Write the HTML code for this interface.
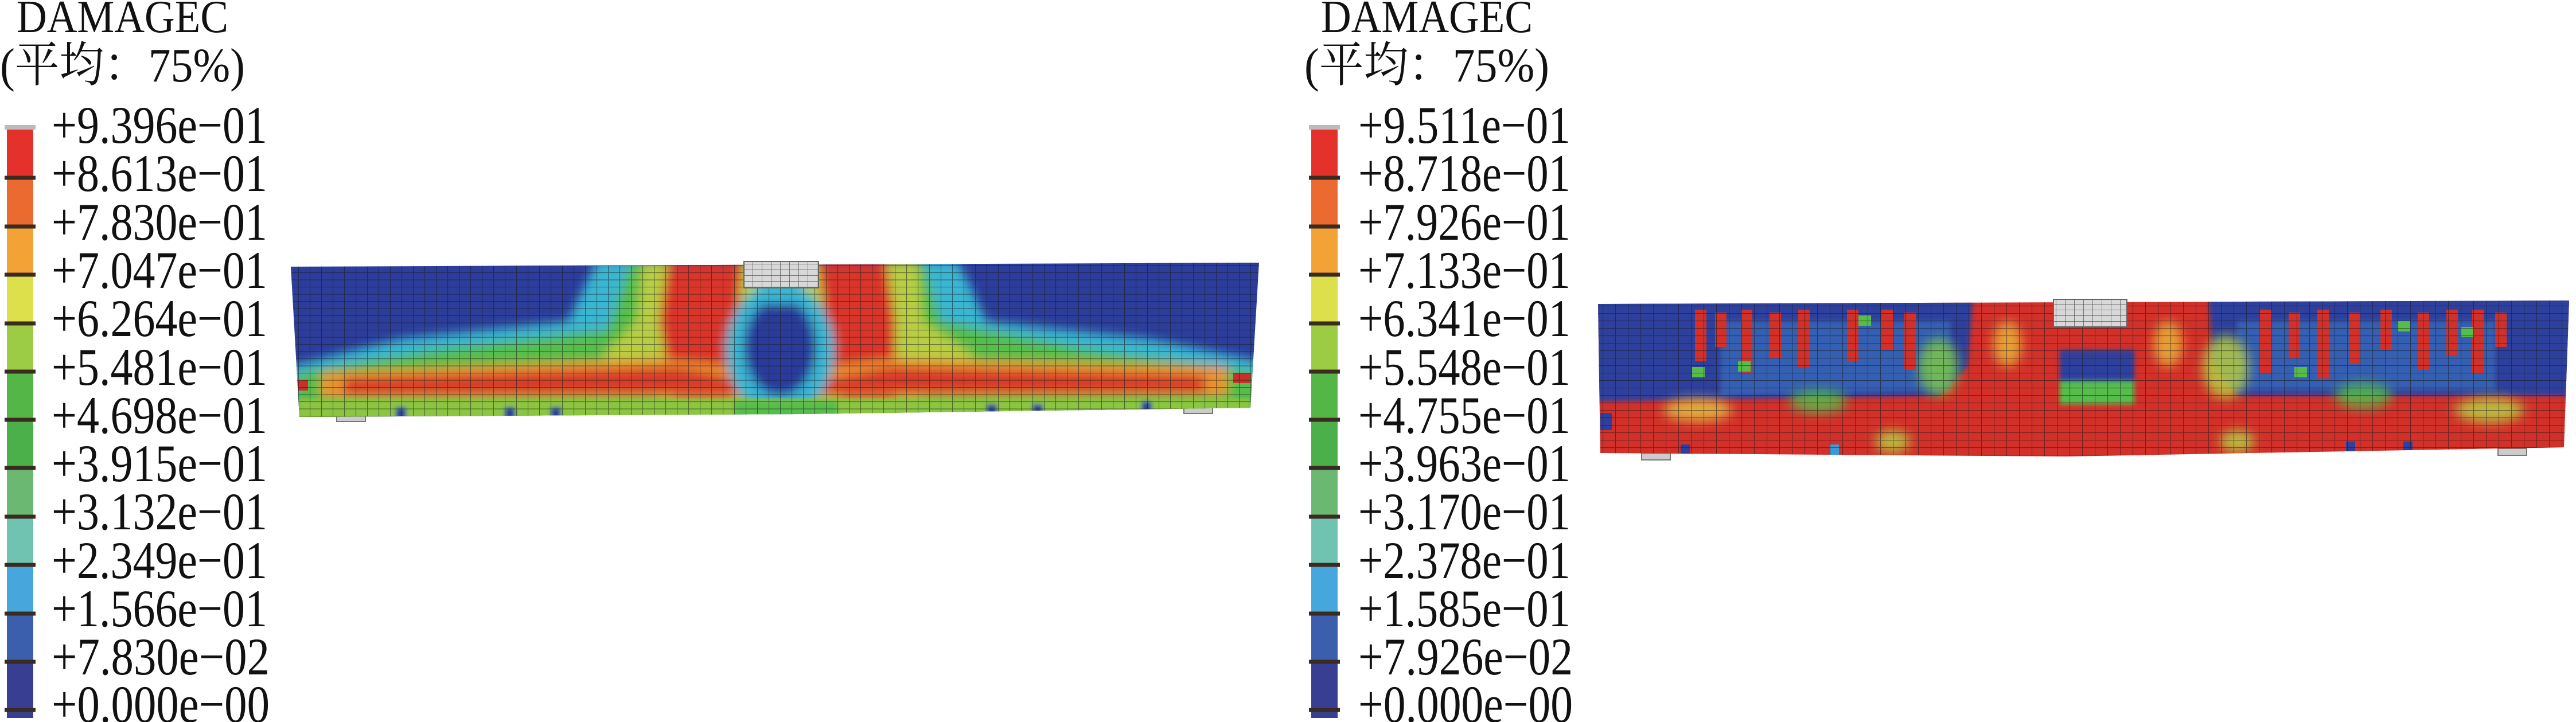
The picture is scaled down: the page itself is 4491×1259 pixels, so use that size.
<!DOCTYPE html>
<html><head><meta charset="utf-8"><style>
html,body{margin:0;padding:0;background:#fff;}
svg{display:block;}
</style></head><body>
<svg width="4491" height="1259" viewBox="0 0 4491 1259" xmlns="http://www.w3.org/2000/svg" style="font-family:'Liberation Serif','Noto Serif CJK SC',serif;">
<defs>
<filter id="bl" x="-5%" y="-5%" width="110%" height="110%"><feGaussianBlur stdDeviation="9"/></filter>
<filter id="bl2" x="-5%" y="-5%" width="110%" height="110%"><feGaussianBlur stdDeviation="4"/></filter>
<filter id="bl3" x="-20%" y="-20%" width="140%" height="140%"><feGaussianBlur stdDeviation="10"/></filter>
<pattern id="g1" width="20" height="12.5" patternUnits="userSpaceOnUse">
<path d="M0 0H20M0 0V12.5" stroke="#1a1a1a" stroke-opacity="0.55" stroke-width="2.2" fill="none"/></pattern>
<pattern id="g2" width="22" height="13" patternUnits="userSpaceOnUse">
<path d="M0 0H22M0 0V13" stroke="#1a1a1a" stroke-opacity="0.55" stroke-width="2.2" fill="none"/></pattern>
<pattern id="gp" width="16" height="10" patternUnits="userSpaceOnUse">
<path d="M0 0H16M0 0V10" stroke="#555" stroke-width="1.5" fill="none"/></pattern>
<clipPath id="c1"><path d="M507 465 L2195 458 L2180 711 L1400 722 L522 727 Z"/></clipPath>
<clipPath id="c2"><path d="M2786 530 L4479 524 L4470 780 L3600 796 L2790 790 Z"/></clipPath>
<g id="legendbar">
<rect x="12" y="222" width="46" height="1030" fill="#aaa"/>
<rect x="12" y="226" width="46" height="84" fill="#e5312b"/>
<rect x="12" y="310" width="46" height="85" fill="#eb6a30"/>
<rect x="12" y="395" width="46" height="84" fill="#f3a336"/>
<rect x="12" y="479" width="46" height="85" fill="#dde04a"/>
<rect x="12" y="564" width="46" height="84" fill="#9ccc44"/>
<rect x="12" y="648" width="46" height="84" fill="#55b648"/>
<rect x="12" y="732" width="46" height="84" fill="#4bb049"/>
<rect x="12" y="816" width="46" height="85" fill="#6ab872"/>
<rect x="12" y="901" width="46" height="84" fill="#70c3b0"/>
<rect x="12" y="985" width="46" height="85" fill="#45a7dc"/>
<rect x="12" y="1070" width="46" height="84" fill="#3b5fad"/>
<rect x="12" y="1154" width="46" height="98" fill="#383f93"/>
<g stroke="#3a2a20" stroke-width="7">
<path d="M8 310H62M8 395H62M8 479H62M8 564H62M8 648H62M8 732H62M8 816H62M8 901H62M8 985H62M8 1070H62M8 1154H62M8 1238H62"/>
</g>
<path d="M8 222H62" stroke="#bbb" stroke-width="8"/>
</g>
</defs>

<!-- LEFT LEGEND -->
<g fill="#111" font-family="Liberation Serif, Noto Serif CJK SC, serif">
<text x="29" y="56" font-size="80" textLength="369" lengthAdjust="spacingAndGlyphs">DAMAGEC</text>
<text x="0" y="142" font-size="84" textLength="427" lengthAdjust="spacingAndGlyphs">(平均：75%)</text>
</g>
<use href="#legendbar"/>
<g font-size="92" fill="#111" font-family="Liberation Serif, serif">
<text x="90" y="249" textLength="376" lengthAdjust="spacingAndGlyphs">+9.396e−01</text>
<text x="90" y="333" textLength="376" lengthAdjust="spacingAndGlyphs">+8.613e−01</text>
<text x="90" y="418" textLength="376" lengthAdjust="spacingAndGlyphs">+7.830e−01</text>
<text x="90" y="502" textLength="376" lengthAdjust="spacingAndGlyphs">+7.047e−01</text>
<text x="90" y="586" textLength="376" lengthAdjust="spacingAndGlyphs">+6.264e−01</text>
<text x="90" y="671" textLength="376" lengthAdjust="spacingAndGlyphs">+5.481e−01</text>
<text x="90" y="755" textLength="376" lengthAdjust="spacingAndGlyphs">+4.698e−01</text>
<text x="90" y="839" textLength="376" lengthAdjust="spacingAndGlyphs">+3.915e−01</text>
<text x="90" y="923" textLength="376" lengthAdjust="spacingAndGlyphs">+3.132e−01</text>
<text x="90" y="1008" textLength="376" lengthAdjust="spacingAndGlyphs">+2.349e−01</text>
<text x="90" y="1092" textLength="376" lengthAdjust="spacingAndGlyphs">+1.566e−01</text>
<text x="90" y="1176" textLength="380" lengthAdjust="spacingAndGlyphs">+7.830e−02</text>
<text x="90" y="1259" textLength="380" lengthAdjust="spacingAndGlyphs">+0.000e−00</text>
</g>

<!-- RIGHT LEGEND -->
<g transform="translate(2274,0)">
<g fill="#111" font-family="Liberation Serif, Noto Serif CJK SC, serif">
<text x="29" y="56" font-size="80" textLength="369" lengthAdjust="spacingAndGlyphs">DAMAGEC</text>
<text x="0" y="142" font-size="84" textLength="427" lengthAdjust="spacingAndGlyphs">(平均：75%)</text>
</g>
<use href="#legendbar"/>
<g font-size="92" fill="#111" font-family="Liberation Serif, serif">
<text x="94" y="249" textLength="370" lengthAdjust="spacingAndGlyphs">+9.511e−01</text>
<text x="94" y="333" textLength="370" lengthAdjust="spacingAndGlyphs">+8.718e−01</text>
<text x="94" y="418" textLength="370" lengthAdjust="spacingAndGlyphs">+7.926e−01</text>
<text x="94" y="502" textLength="370" lengthAdjust="spacingAndGlyphs">+7.133e−01</text>
<text x="94" y="586" textLength="370" lengthAdjust="spacingAndGlyphs">+6.341e−01</text>
<text x="94" y="671" textLength="370" lengthAdjust="spacingAndGlyphs">+5.548e−01</text>
<text x="94" y="755" textLength="370" lengthAdjust="spacingAndGlyphs">+4.755e−01</text>
<text x="94" y="839" textLength="370" lengthAdjust="spacingAndGlyphs">+3.963e−01</text>
<text x="94" y="923" textLength="370" lengthAdjust="spacingAndGlyphs">+3.170e−01</text>
<text x="94" y="1008" textLength="370" lengthAdjust="spacingAndGlyphs">+2.378e−01</text>
<text x="94" y="1092" textLength="370" lengthAdjust="spacingAndGlyphs">+1.585e−01</text>
<text x="94" y="1176" textLength="374" lengthAdjust="spacingAndGlyphs">+7.926e−02</text>
<text x="94" y="1259" textLength="374" lengthAdjust="spacingAndGlyphs">+0.000e−00</text>
</g>
</g>

<!-- LEFT BEAM -->
<rect x="587" y="722" width="50" height="13" fill="#ccc" stroke="#777" stroke-width="2"/>
<rect x="2064" y="708" width="50" height="13" fill="#ccc" stroke="#777" stroke-width="2"/>
<g clip-path="url(#c1)">
<rect x="500" y="450" width="1710" height="290" fill="#2c3d9c"/>
<g filter="url(#bl)">
<path d="M1040 455 L1670 455 L1720 560 L2000 590 L2200 630 L2200 740 L500 740 L500 640 L700 590 L990 560 Z" fill="#3ab6d2"/>
<path d="M1100 455 L1610 455 L1640 560 L1900 610 L2200 650 L2200 740 L500 740 L520 650 L760 610 L1060 575 Z" fill="#56bd4b"/>
<path d="M1120 455 L1600 455 L1610 560 L1700 620 L1600 700 L1150 700 L1050 620 L1110 560 Z" fill="#e2d442" opacity="0.7"/>
<path d="M1165 455 L1295 455 L1285 560 L1275 700 L1175 700 L1150 560 Z" fill="#d9342a"/>
<path d="M1425 455 L1545 455 L1560 560 L1560 700 L1465 700 L1440 560 Z" fill="#d9342a"/>
<path d="M560 650 L1150 625 L1290 640 L1440 640 L1560 625 L2140 640 L2140 690 L560 695 Z" fill="#e9932f"/>
<path d="M600 660 L1180 640 L1280 660 L1450 660 L1550 640 L2100 655 L2100 685 L600 688 Z" fill="#d63a2a"/>
<ellipse cx="1360" cy="610" rx="95" ry="115" fill="#3ab6d2"/>
<ellipse cx="1360" cy="605" rx="62" ry="85" fill="#2a3a9a"/>
<rect x="1320" y="470" width="80" height="60" fill="#3ab6d2"/>
</g>
<g filter="url(#bl2)">
<rect x="520" y="695" width="1660" height="40" fill="#8cc63f"/>
<rect x="1280" y="700" width="180" height="35" fill="#56bd4b"/>
<rect x="690" y="710" width="18" height="25" fill="#2c3d9c"/>
<rect x="880" y="710" width="18" height="25" fill="#2c3d9c"/>
<rect x="960" y="710" width="18" height="25" fill="#2c3d9c"/>
<rect x="1720" y="705" width="18" height="25" fill="#2c3d9c"/>
<rect x="1800" y="705" width="18" height="25" fill="#2c3d9c"/>
<rect x="1990" y="700" width="18" height="25" fill="#2c3d9c"/>
</g>
<rect x="507" y="663" width="30" height="18" fill="#c8302a"/>
<rect x="2150" y="650" width="30" height="18" fill="#c8302a"/>
<rect x="500" y="450" width="1710" height="290" fill="url(#g1)"/>
</g>
<rect x="1297" y="456" width="130" height="46" fill="#d8d8d8"/>
<rect x="1297" y="456" width="130" height="46" fill="url(#gp)" stroke="#666" stroke-width="2"/>

<!-- RIGHT BEAM -->
<rect x="2862" y="790" width="50" height="12" fill="#ccc" stroke="#777" stroke-width="2"/>
<rect x="4355" y="782" width="50" height="12" fill="#ccc" stroke="#777" stroke-width="2"/>
<g clip-path="url(#c2)">
<rect x="2780" y="515" width="1710" height="290" fill="#d3302a"/>
<g filter="url(#bl2)">
<path d="M2780 515 L3440 515 L3430 640 L3380 690 L2780 700 Z" fill="#2e3f9e"/>
<path d="M3850 515 L4490 515 L4490 690 L3900 690 L3860 640 Z" fill="#2e3f9e"/>
<path d="M3000 560 L3400 560 L3400 680 L3000 690 Z" fill="#3d7fc8" opacity="0.5"/>
<path d="M3900 560 L4350 560 L4350 680 L3900 680 Z" fill="#3d7fc8" opacity="0.5"/>
<rect x="3591" y="610" width="130" height="57" fill="#2e3f9e"/>
<rect x="3591" y="665" width="130" height="40" fill="#56bd4b"/>
</g>
<g filter="url(#bl3)" opacity="0.85">
<ellipse cx="3380" cy="640" rx="35" ry="50" fill="#7cc64a"/>
<ellipse cx="3880" cy="640" rx="40" ry="55" fill="#b7cf45"/>
<ellipse cx="3170" cy="700" rx="50" ry="20" fill="#56bd4b"/>
<ellipse cx="2960" cy="715" rx="60" ry="20" fill="#e2c144"/>
<ellipse cx="4120" cy="690" rx="50" ry="22" fill="#56bd4b"/>
<ellipse cx="4340" cy="715" rx="60" ry="22" fill="#b7cf45"/>
<ellipse cx="3500" cy="600" rx="25" ry="40" fill="#e8b43a"/>
<ellipse cx="3780" cy="600" rx="25" ry="40" fill="#e8b43a"/>
<ellipse cx="3300" cy="770" rx="30" ry="20" fill="#b7cf45"/>
<ellipse cx="3900" cy="770" rx="30" ry="20" fill="#b7cf45"/>
</g>
<g fill="#d3302a">
<rect x="2955" y="540" width="20" height="90"/><rect x="2990" y="545" width="20" height="60"/>
<rect x="3035" y="540" width="20" height="110"/><rect x="3085" y="545" width="20" height="80"/>
<rect x="3135" y="540" width="20" height="100"/><rect x="3220" y="540" width="20" height="90"/>
<rect x="3280" y="540" width="20" height="70"/><rect x="3320" y="545" width="20" height="100"/>
<rect x="3940" y="540" width="20" height="110"/><rect x="3990" y="545" width="20" height="80"/>
<rect x="4040" y="540" width="20" height="120"/><rect x="4095" y="545" width="20" height="90"/>
<rect x="4150" y="540" width="20" height="70"/><rect x="4215" y="545" width="20" height="100"/>
<rect x="4265" y="540" width="20" height="80"/><rect x="4310" y="540" width="20" height="110"/>
<rect x="4350" y="545" width="20" height="60"/>
</g>
<g fill="#56bd4b">
<rect x="2950" y="640" width="22" height="18"/><rect x="3030" y="630" width="22" height="18"/>
<rect x="3240" y="550" width="22" height="18"/><rect x="4180" y="560" width="22" height="18"/>
<rect x="4290" y="570" width="22" height="18"/><rect x="4000" y="640" width="22" height="18"/>
</g>
<rect x="2790" y="720" width="20" height="30" fill="#2e3f9e"/>
<rect x="2930" y="775" width="16" height="20" fill="#2e3f9e"/>
<rect x="3190" y="775" width="16" height="20" fill="#3d9ad8"/>
<rect x="4090" y="770" width="16" height="20" fill="#2e3f9e"/>
<rect x="4190" y="770" width="16" height="20" fill="#2e3f9e"/>
<rect x="2780" y="515" width="1710" height="290" fill="url(#g2)"/>
</g>
<rect x="3580" y="522" width="128" height="48" fill="#d8d8d8"/>
<rect x="3580" y="522" width="128" height="48" fill="url(#gp)" stroke="#666" stroke-width="2"/>
</svg>
</body></html>
